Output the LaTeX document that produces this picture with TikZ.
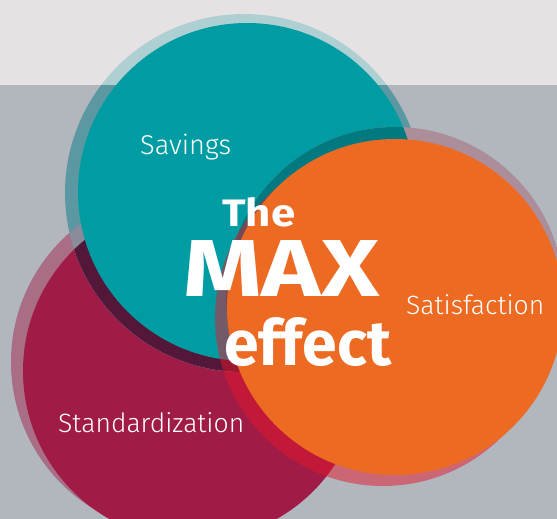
\documentclass[tikz,border=0pt]{standalone}
\usepackage{fontspec}
\usepackage{graphicx}
\setmainfont{Fira Sans}
\newfontfamily\labelfont{Fira Sans Light}
\definecolor{bgtop}{HTML}{E6E2E4}
\definecolor{bgbot}{HTML}{B1B7BD}
\definecolor{crimHalo}{HTML}{A96D85}
\definecolor{crimMain}{HTML}{A01B46}
\definecolor{tealHaloTop}{HTML}{AED0D3}
\definecolor{tealHaloBot}{HTML}{5C98A1}
\definecolor{tealHaloCH}{HTML}{8A8C9C}
\definecolor{tealHaloCrim}{HTML}{521739}
\definecolor{tealMain}{HTML}{009CA4}
\definecolor{orShGrey}{HTML}{AB8E9A}
\definecolor{orShTeal}{HTML}{007A80}
\definecolor{pinkHalo}{HTML}{E6192D}
\definecolor{orMain}{HTML}{ED6A22}
\tikzset{
  lbl/.style={anchor=base west, inner sep=0pt, text=white},
}
\begin{document}
\begin{tikzpicture}[x=1pt,y=-1pt]
\useasboundingbox (0,0) rectangle (557,519);
\clip (0,0) rectangle (557,519);
\fill[bgtop] (0,0) rectangle (557,85);
\fill[bgbot] (0,85) rectangle (557,519);
% crimson
\fill[crimHalo] (183,362) circle (172pt);
\fill[crimMain] (193,371) circle (170pt);
% teal halo
\begin{scope}
  \clip (244,193) circle (179pt);
  \fill[tealHaloTop] (0,0) rectangle (557,85);
  \fill[tealHaloBot] (0,85) rectangle (557,519);
  \begin{scope}
    \clip (183,362) circle (172pt);
    \fill[tealHaloCH] (0,0) rectangle (557,519);
  \end{scope}
  \clip (193,371) circle (170pt);
  \fill[tealHaloCrim] (0,0) rectangle (557,519);
\end{scope}
\fill[tealMain] (247,192) circle (169pt);
% orange shadow
\begin{scope}
  \clip (395,296) circle (169pt);
  \fill[orShGrey] (0,85) rectangle (557,519);
  \clip (247,192) circle (169pt);
  \fill[orShTeal] (0,0) rectangle (557,519);
\end{scope}
\fill[pinkHalo, fill opacity=0.5] (383,318) circle (168pt);
\fill[orMain] (395,307) circle (168pt);
% labels
\node[lbl] (sav) at (140,154.3) {\resizebox{91pt}{!}{\labelfont Savings}};
\node[lbl] (sat) at (406,314) {\resizebox{138pt}{!}{\labelfont Satisfaction}};
\node[lbl] (std) at (58,432) {\resizebox{186pt}{!}{\labelfont Standardization}};
% title
\node[lbl] (the) at (222,226.7) {\resizebox{73pt}{29pt}{\bfseries The}};
\node[lbl] (max) at (183,296.7) {\resizebox{196pt}{56pt}{\bfseries MAX}};
\node[lbl] (eff) at (224,365) {\resizebox{167pt}{48pt}{\bfseries effect}};
\end{tikzpicture}
\end{document}
